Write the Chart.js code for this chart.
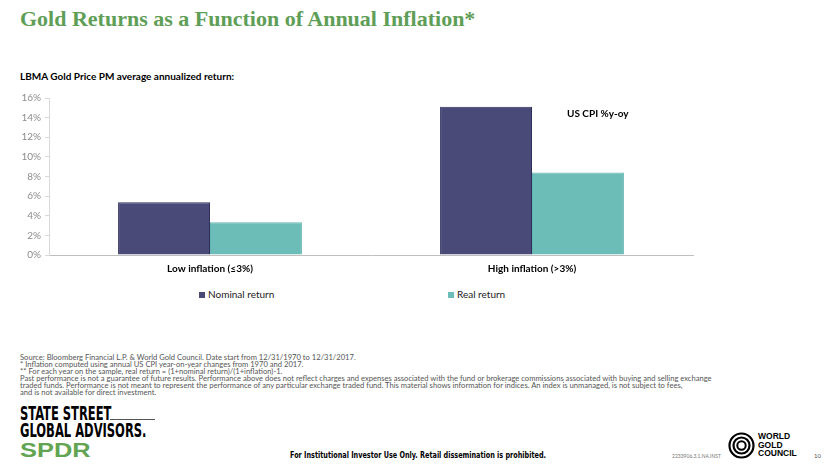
<!DOCTYPE html>
<html>
<head>
<meta charset="utf-8">
<script src="https://cdn.jsdelivr.net/npm/chart.js@4.4.0/dist/chart.umd.min.js"></script>
<style>
body { margin: 0; width: 840px; height: 473px; background: #fff; position: relative; overflow: hidden; font-family: Lato, "Noto Sans", sans-serif; }
.abs { position: absolute; white-space: nowrap; }
#titulo { left: 20px; top: 6px; font-family: "Liberation Serif", serif; font-weight: bold; font-size: 22px; color: #5f9e57; }
#subtitulo { left: 20px; top: 70px; font-weight: bold; font-size: 10px; color: #000; }
#caixa_grafico { left: 0; top: 88px; }
#nota_cpi { left: 567px; top: 107px; font-weight: bold; font-size: 10px; color: #000; }
.item_legenda { top: 288px; font-size: 10px; color: #222; }
.item_legenda .quadrado { display: inline-block; width: 6px; height: 6px; margin-right: 3px; vertical-align: 0px; }
#notas { left: 20px; top: 354px; font-size: 7.6px; line-height: 6.9px; color: #555; }
#ssga1, #ssga2 { left: 20px; font-family: "Liberation Sans Narrow", "DejaVu Sans Condensed", sans-serif; font-weight: bold; font-size: 20px; line-height: 20px; color: #000; transform-origin: left top; transform: scaleX(0.64); }
#ssga1 { top: 403px; }
#ssga2 { top: 420px; }
#linha_ssga { left: 110px; top: 419px; width: 45px; height: 1px; background: #555; }
#spdr { left: 20px; top: 440px; font-family: "Liberation Sans", sans-serif; font-weight: 900; font-size: 20px; line-height: 20px; color: #63a452; transform-origin: left top; transform: scaleX(1.27); }
#aviso { left: 290px; top: 450px; font-family: "Liberation Sans Narrow", "DejaVu Sans Condensed", sans-serif; font-weight: bold; font-size: 9px; color: #000; transform-origin: left top; transform: scaleX(0.8); }
#codigo { left: 672px; top: 453px; font-size: 5px; color: #777; }
#wgc_texto { left: 758px; top: 432px; font-family: "Liberation Sans", sans-serif; font-weight: bold; font-size: 8.5px; line-height: 8.5px; color: #000; }
#pagina { left: 814px; top: 452px; font-size: 6px; color: #555; }
#wgc_logo { left: 728px; top: 432px; }
</style>
</head>
<body>
<div class="abs" id="titulo">Gold Returns as a Function of Annual Inflation*</div>
<div class="abs" id="subtitulo">LBMA Gold Price PM average annualized return:</div>
<div class="abs" id="caixa_grafico"><canvas id="grafico_ouro" width="700" height="192"></canvas></div>
<div class="abs" id="nota_cpi">US CPI %y-oy</div>
<div class="abs item_legenda" id="leg_0" style="left:199px"></div>
<div class="abs item_legenda" id="leg_1" style="left:448px"></div>
<div class="abs" id="notas">
Source: Bloomberg Financial L.P. &amp; World Gold Council. Date start from 12/31/1970 to 12/31/2017.<br>
* Inflation computed using annual US CPI year-on-year changes from 1970 and 2017.<br>
** For each year on the sample, real return = (1+nominal return)/(1+inflation)-1.<br>
Past performance is not a guarantee of future results. Performance above does not reflect charges and expenses associated with the fund or brokerage commissions associated with buying and selling exchange<br>
traded funds. Performance is not meant to represent the performance of any particular exchange traded fund. This material shows information for indices. An index is unmanaged, is not subject to fees,<br>
and is not available for direct investment.
</div>
<div class="abs" id="ssga1">STATE STREET</div>
<div class="abs" id="linha_ssga"></div>
<div class="abs" id="ssga2">GLOBAL ADVISORS.</div>
<div class="abs" id="spdr">SPDR</div>
<div class="abs" id="aviso">For Institutional Investor Use Only. Retail dissemination is prohibited.</div>
<div class="abs" id="codigo">2233906.3.1.NA.INST</div>
<svg class="abs" id="wgc_logo" width="27" height="27" viewBox="0 0 27 27">
  <circle cx="13.5" cy="13.5" r="12" fill="none" stroke="#000" stroke-width="2.2"/>
  <circle cx="13.5" cy="13.5" r="8" fill="none" stroke="#000" stroke-width="2.2"/>
  <circle cx="13.5" cy="13.5" r="4.2" fill="none" stroke="#000" stroke-width="2"/>
</svg>
<div class="abs" id="wgc_texto">WORLD<br>GOLD<br>COUNCIL</div>
<div class="abs" id="pagina">10</div>

<script>
// dados
var categorias = ["Low inflation (≤3%)", "High inflation (>3%)"];
var nomes_series = ["Nominal return", "Real return"];
var retorno_nominal = [5.37, 15.1];
var retorno_real = [3.33, 8.4];
var eixo_y_min = 0;
var eixo_y_max = 16;
var eixo_y_passo = 2;

var cores_series = ["#4a4a78", "#6cbdb8"];
var bordas_series = ["#2f2f5e", "#64b6b1"];

// legenda feita em html, os itens ficam bem separados no original
for (var i = 0; i < nomes_series.length; i++) {
	var leg = document.getElementById("leg_" + i);
	leg.innerHTML = '<span class="quadrado" style="background:' + cores_series[i] + '"></span>' + nomes_series[i];
}

var canvas = document.getElementById("grafico_ouro");
new Chart(canvas, {
	type: "bar",
	data: {
		labels: categorias,
		datasets: [
			{
				label: nomes_series[0],
				data: retorno_nominal,
				backgroundColor: cores_series[0],
				borderColor: bordas_series[0],
				borderWidth: 1,
				categoryPercentage: 0.571,
				barPercentage: 1,
			},
			{
				label: nomes_series[1],
				data: retorno_real,
				backgroundColor: cores_series[1],
				borderColor: bordas_series[1],
				borderWidth: 1,
				categoryPercentage: 0.571,
				barPercentage: 1,
			},
		],
	},
	options: {
		responsive: false,
		animation: false,
		layout: {
			padding: { top: 10, right: 7, left: 0, bottom: 0 },
		},
		plugins: {
			legend: { display: false },
			tooltip: { enabled: false },
		},
		scales: {
			x: {
				grid: { display: true, drawOnChartArea: false, drawTicks: false },
				border: { color: "#bfbfbf" },
				ticks: {
					font: { family: "Lato", weight: "bold", size: 10 },
					color: "#000",
					padding: 8,
				},
				afterFit: function (scale) {
					scale.height = 25;
				},
			},
			y: {
				min: eixo_y_min,
				max: eixo_y_max,
				ticks: {
					stepSize: eixo_y_passo,
					callback: function (v) {
						return v + "%";
					},
					font: { family: "Lato", size: 10 },
					color: "#8c8c8c",
					padding: 4,
				},
				grid: { drawOnChartArea: false, tickLength: 4, color: "#d9d9d9" },
				border: { color: "#d9d9d9" },
				afterFit: function (scale) {
					scale.width = 49;
				},
			},
		},
	},
});
</script>
</body>
</html>
